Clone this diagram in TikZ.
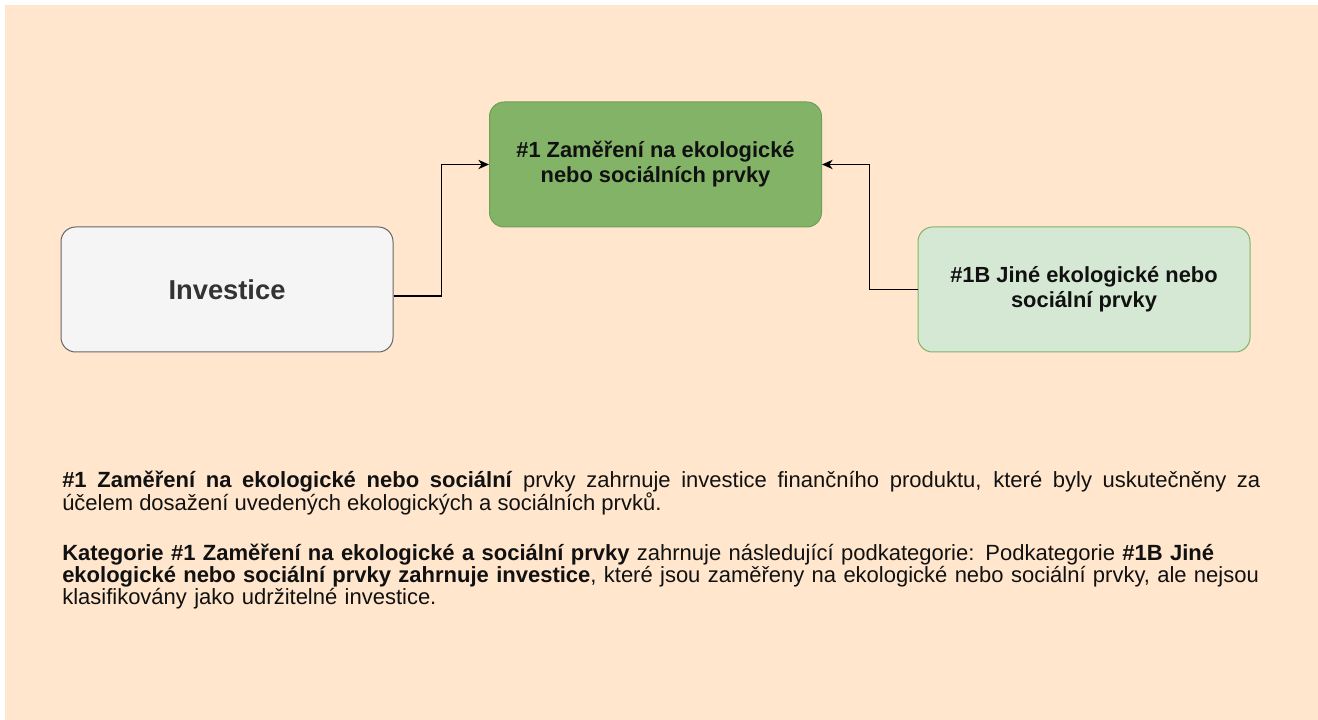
\documentclass[tikz,border=0pt]{standalone}
\usepackage{fontspec}
\setmainfont{Liberation Sans}
\usetikzlibrary{arrows.meta,calc}
\definecolor{peach}{HTML}{FFE6CC}
\definecolor{greyfill}{HTML}{F5F5F5}
\definecolor{greyline}{HTML}{666666}
\definecolor{greytext}{HTML}{333333}
\definecolor{darkgreen}{HTML}{82B366}
\definecolor{darkgreenline}{HTML}{6E9F5B}
\definecolor{lightgreen}{HTML}{D5E8D4}
\definecolor{textblack}{HTML}{111111}
\tikzset{
  box/.style={rounded corners=11pt, minimum width=249pt, minimum height=93.75pt,
    inner sep=0pt, align=center, line width=0.75pt},
  conn/.style={draw=black, line width=1pt, -{Stealth[length=8pt,width=7pt,inset=2.5pt]}},
  para/.style={anchor=base west, inner sep=0pt,
    font=\fontsize{16.5pt}{16.5pt}\selectfont, text=textblack}
}
\begin{document}
\begin{tikzpicture}[x=0.75pt,y=-0.75pt]
\useasboundingbox (0,0) rectangle (1318,720);
\fill[peach] (5,5) rectangle (1318,720);

\node[box, draw=greyline, fill=greyfill, text=greytext,
  font=\bfseries\fontsize{20.5pt}{24pt}\selectfont] (inv) at (227,289.5) {Investice};
\node[box, draw=darkgreenline, fill=darkgreen, text=textblack,
  font=\bfseries\fontsize{16.4pt}{18.75pt}\selectfont] (focus) at (655.5,164.5)
  {\#1 Zaměření na ekologické\\nebo sociálních prvky};
\node[box, draw=darkgreen, fill=lightgreen, text=textblack,
  font=\bfseries\fontsize{16.4pt}{18.75pt}\selectfont] (other) at (1084,289.5)
  {\#1B Jiné ekologické nebo\\sociální prvky};

\draw[conn] ([yshift=-4.9pt]inv.east) -- ++(48,0) |- (focus.west);
\draw[conn] (other.west) -- ++(-48,0) |- (focus.east);

\node[para, text width=898.5pt, align=justify] (p1) at (62,487) {\textbf{\#1 Zaměření na ekologické nebo sociální} prvky zahrnuje investice finančního produktu, které byly uskutečněny za\linebreak
účelem dosažení uvedených ekologických a sociálních prvků.};
\node[para, text width=940pt, align=left] (p2) at (62,560) {\textbf{Kategorie \#1 Zaměření na ekologické a sociální prvky} zahrnuje následující podkategorie: Podkategorie \textbf{\#1B Jiné}\\
\textbf{ekologické nebo sociální prvky zahrnuje investice}, které jsou zaměřeny na ekologické nebo sociální prvky, ale nejsou\\
klasifikovány jako udržitelné investice.};
\end{tikzpicture}
\end{document}
